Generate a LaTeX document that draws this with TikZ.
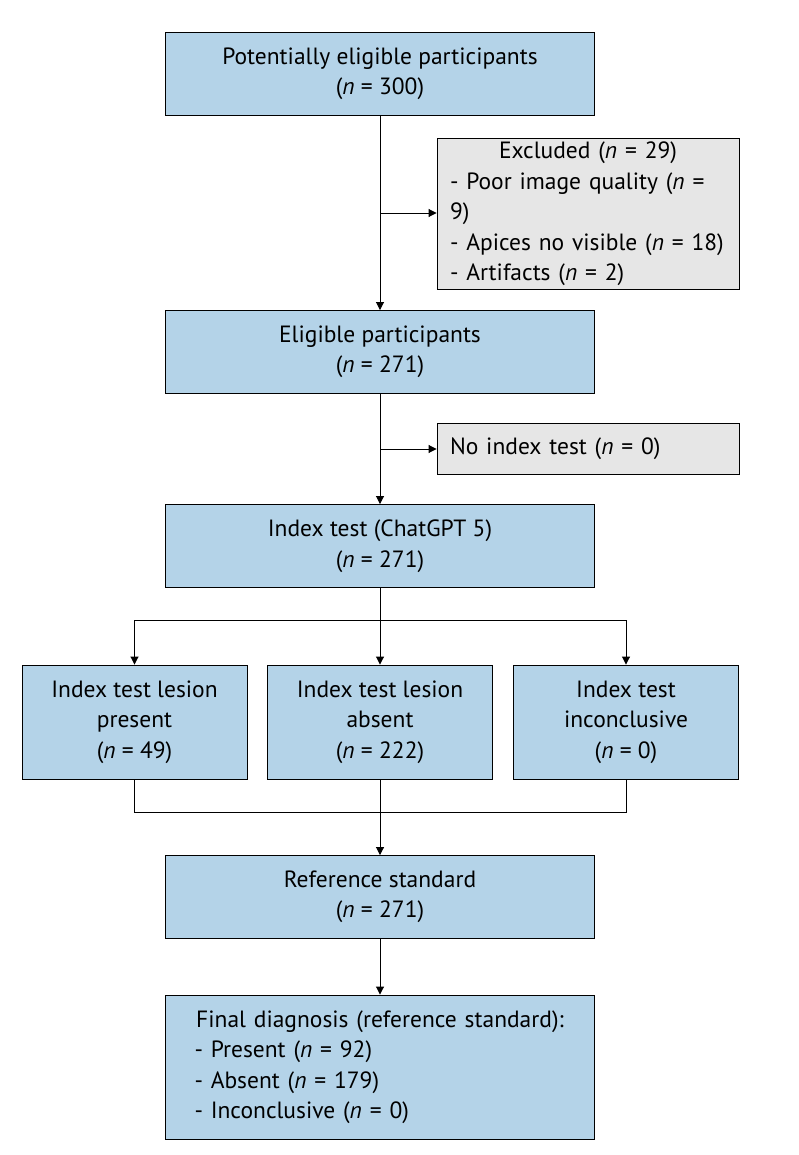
\documentclass[tikz,border=0pt]{standalone}
\usepackage{fontspec}
\setmainfont{PT Sans}
\usetikzlibrary{arrows.meta,positioning}
\definecolor{boxblue}{HTML}{B4D3E8}
\definecolor{boxgray}{HTML}{E6E6E6}
\tikzset{
    main/.style={draw, fill=boxblue, line width=0.9pt, minimum width=429pt, minimum height=83pt, align=center, font=\fontsize{23.5}{30.5}\selectfont, inner sep=2pt},
    side/.style={draw, fill=boxgray, line width=0.9pt, minimum width=302pt, align=left, text width=276pt, inner xsep=13pt, font=\fontsize{23.5}{30.5}\selectfont},
    split/.style={main, minimum width=225pt, minimum height=114pt},
    arr/.style={-{Triangle[length=8pt,width=8pt]}, line width=0.9pt},
    ln/.style={line width=0.9pt}
}
\begin{document}
\begin{tikzpicture}[x=1pt,y=-1pt]
    \useasboundingbox (0,0) rectangle (798,1155);
    % Main boxes
    \node[main] (pot) at (380,74) {Potentially eligible participants\\(\textit{n} = 300)};
    \node[main] (elig) at (380,352) {Eligible participants\\(\textit{n} = 271)};
    \node[main] (idx) at (380,546) {Index test (ChatGPT 5)\\(\textit{n} = 271)};
    \node[main] (ref) at (380,897) {Reference standard\\(\textit{n} = 271)};
    \node[main, minimum height=144pt, align=left, text width=371pt, inner xsep=29pt] (final) at (380,1067)
        {\makebox[\linewidth][c]{Final diagnosis (reference standard):}\\- Present (\textit{n} = 92)\\- Absent (\textit{n} = 179)\\- Inconclusive (\textit{n} = 0)};
    % Side boxes
    \node[side, minimum height=144pt] (excl) at (588,214) {\makebox[\linewidth][c]{Excluded (\textit{n} = 29)}\\- Poor image quality (\textit{n} = 9)\\- Apices no visible (\textit{n} = 18)\\- Artifacts (\textit{n} = 2)};
    \node[side, minimum height=51pt] (noidx) at (588,449) {No index test (\textit{n} = 0)};
    % Split boxes
    \node[split] (pres) at (134.5,722) {Index test lesion\\present\\(\textit{n} = 49)};
    \node[split] (abs) at (380,722) {Index test lesion\\absent\\(\textit{n} = 222)};
    \node[split] (inc) at (626,722) {Index test\\inconclusive\\(\textit{n} = 0)};
    % Connectors
    \coordinate (b1) at (380,213);
    \coordinate (b2) at (380,449);
    \draw[arr] (pot) -- (elig);
    \draw[arr] (b1) -- (excl.west |- b1);
    \draw[arr] (elig) -- (idx);
    \draw[arr] (b2) -- (noidx);
    \coordinate (s) at (380,620);
    \draw[ln] (idx) -- (s);
    \draw[ln] (pres.north |- s) -- (inc.north |- s);
    \draw[arr] (pres.north |- s) -- (pres);
    \draw[arr] (s) -- (abs);
    \draw[arr] (inc.north |- s) -- (inc);
    \coordinate (m) at (380,812);
    \draw[ln] (pres) -- (pres.south |- m) -- (inc.south |- m) -- (inc);
    \draw[ln] (abs) -- (m);
    \draw[arr] (m) -- (ref);
    \draw[arr] (ref) -- (final);
\end{tikzpicture}
\end{document}
